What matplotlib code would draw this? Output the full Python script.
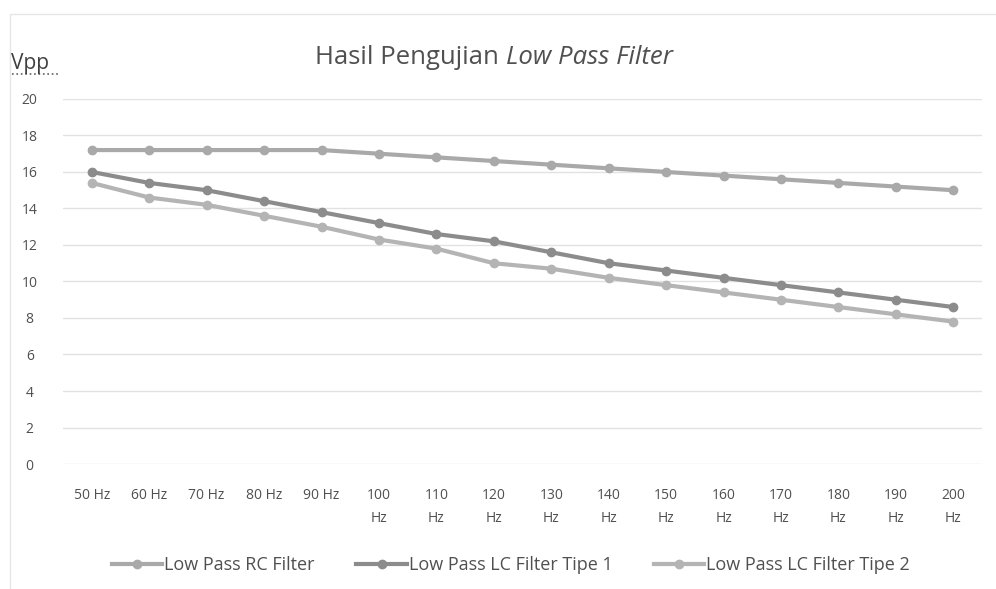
import numpy as np
import matplotlib
matplotlib.use("Agg")
import matplotlib.pyplot as plt
from matplotlib.patches import Rectangle

# Data
freqs = ["50 Hz", "60 Hz", "70 Hz", "80 Hz", "90 Hz", "100\nHz", "110\nHz", "120\nHz",
         "130\nHz", "140\nHz", "150\nHz", "160\nHz", "170\nHz", "180\nHz", "190\nHz", "200\nHz"]
rc_filter = [17.2, 17.2, 17.2, 17.2, 17.2, 17.0, 16.8, 16.6, 16.4, 16.2, 16.0, 15.8, 15.6, 15.4, 15.2, 15.0]
lc_tipe1 = [16.0, 15.4, 15.0, 14.4, 13.8, 13.2, 12.6, 12.2, 11.6, 11.0, 10.6, 10.2, 9.8, 9.4, 9.0, 8.6]
lc_tipe2 = [15.4, 14.6, 14.2, 13.6, 13.0, 12.3, 11.8, 11.0, 10.7, 10.2, 9.8, 9.4, 9.0, 8.6, 8.2, 7.8]
series_names = ["Low Pass RC Filter", "Low Pass LC Filter Tipe 1", "Low Pass LC Filter Tipe 2"]
colors = ["#a9a9a9", "#8c8c8c", "#b4b4b4"]

plt.rcParams['font.family'] = ['Open Sans', 'DejaVu Sans']
text_color = "#505050"

fig = plt.figure(figsize=(9.96, 5.89), dpi=100)
ax = fig.add_axes([0.0633, 0.2122, 0.9227, 0.6198])

x = np.arange(len(freqs))
for vals, name, c in zip([rc_filter, lc_tipe1, lc_tipe2], series_names, colors):
    ax.plot(x, vals, color=c, linewidth=3, marker='o', markersize=6, label=name)

ax.set_xlim(-0.5, len(freqs) - 0.5)
ax.set_ylim(0, 20)
ax.set_yticks(range(0, 21, 2))
ax.set_xticks(x)
ax.set_xticklabels(freqs, fontsize=10, color=text_color, va='top', linespacing=1.75)
ax.tick_params(axis='y', labelsize=10, labelcolor=text_color, length=0, pad=24)
ax.tick_params(axis='x', length=0, pad=17)
for lbl in ax.get_yticklabels():
    lbl.set_horizontalalignment('center')
ax.grid(axis='y', color='#e2e2e2', linewidth=1)
ax.set_axisbelow(True)
for s in ax.spines.values():
    s.set_visible(False)

fig.text(0.508, 0.903, "Hasil Pengujian ", fontsize=18.5, color=text_color, ha='right', va='center')
fig.text(0.508, 0.903, "Low Pass Filter", fontsize=18.5, color=text_color, style='italic',
         ha='left', va='center')
fig.text(0.011, 0.893, "Vpp", fontsize=15, color="#404040", ha='left', va='center')
fig.add_artist(plt.Line2D([0.012, 0.058], [0.874, 0.874], color="#606060", linewidth=1.2,
                          linestyle=':'))

fig.legend(loc='center', bbox_to_anchor=(0.513, 0.04), ncol=3, frameon=False,
           fontsize=13, labelcolor=text_color, handlelength=2.8, handletextpad=0.1,
           columnspacing=2.3)

# faint outer chart border
fig.add_artist(Rectangle((0.01, -0.05), 1.2, 1.026, transform=fig.transFigure,
                         fill=False, edgecolor='#e6e6e6', linewidth=1))

fig.savefig("out.png", dpi=100, facecolor='white')
